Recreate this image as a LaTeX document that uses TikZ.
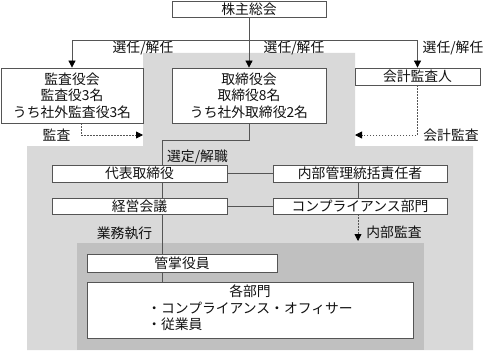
\documentclass[tikz,border=0pt]{standalone}
\usepackage{fontspec}
\setmainfont{Noto Sans CJK JP}
\usepackage{xcolor}
\usetikzlibrary{positioning,calc,arrows.meta,backgrounds}
\definecolor{GInk}{HTML}{111111}
\definecolor{GLine}{HTML}{555555}
\definecolor{GShade}{HTML}{D9D9D9}
\definecolor{GShadeDeep}{HTML}{C0C0C0}

\begin{document}
\begin{tikzpicture}[x=1pt, y=-1pt,
  every node/.style={align=center, text=GInk, font=\fontsize{13.8}{16.5}\selectfont, inner sep=0pt},
  orgbox/.style={draw=GLine, fill=white, line width=0.8pt},
  link/.style={draw=GLine, line width=0.8pt},
  elect/.style={link, -{Triangle[length=7pt, width=7pt, color=black]}},
  audit/.style={draw=GLine, line width=0.8pt, dash pattern=on 1.5pt off 1.5pt, -{Triangle[length=7pt, width=7pt, color=black]}}]
  \useasboundingbox (0,0) rectangle (486,350);
  \fill[GShade] (143,53) -- (355,53) -- (355,146) -- (473,146) -- (473,350) -- (27,350) -- (27,146) -- (143,146) -- cycle;
  \fill[GShadeDeep] (77,243) rectangle (424,350);

  \node[orgbox, minimum width=154pt, minimum height=16pt] (agm)     at (249,9)     {株主総会};
  \node[orgbox, minimum width=142pt, minimum height=55pt] (kansa)   at (72,95.5)   {監査役会\\監査役3名\\うち社外監査役3名};
  \node[orgbox, minimum width=154pt, minimum height=55pt] (board)   at (249,95.5)  {取締役会\\取締役8名\\うち社外取締役2名};
  \node[orgbox, minimum width=125pt, minimum height=17pt] (auditor) at (417.5,76.5) {会計監査人};

  \node[orgbox, minimum width=175pt, minimum height=17pt] (rep)     at (139.5,173.5) {代表取締役};
  \node[orgbox, minimum width=174pt, minimum height=17pt] (ctrl)    at (360,173.5)   {内部管理統括責任者};
  \node[orgbox, minimum width=175pt, minimum height=16pt] (mgmt)    at (139.5,206)   {経営会議};
  \node[orgbox, minimum width=174pt, minimum height=16pt] (comp)    at (360,206)     {コンプライアンス部門};

  \node[orgbox, minimum width=190pt, minimum height=18pt] (officer) at (182,263)   {管掌役員};
  \node[orgbox, minimum width=326pt, minimum height=56pt] (depts)   at (250,310)
    {\begin{tabular}{@{}l@{}}\multicolumn{1}{@{}c@{}}{各部門}\\・コンプライアンス・オフィサー\\・従業員\end{tabular}};

  \node (electL) at (143,48)   {選任/解任};
  \node (electM) at (294,48)   {選任/解任};
  \node (electR) at (453,48)   {選任/解任};
  \node (auditL) at (56.5,135) {監査};
  \node (auditR) at (451,135)  {会計監査};
  \node (appoint) at (197.5,157) {選定/解職};
  \node (inner)  at (394,232)  {内部監査};
  \node (exec)   at (124.5,233) {業務執行};

  \coordinate (fork)  at (249,40);
  \coordinate (bend)  at (249,140);
  \coordinate (spine) at (162,0);
  \coordinate (tapL)  at (81,0);
  \coordinate (tapR)  at (358,0);
  \coordinate (edgeL) at (143,135);
  \coordinate (edgeR) at (355,135);
  \coordinate (innerEnd) at (358,241);

  \draw[link]  (agm.south) -- (fork);
  \draw[elect] (fork) -| (kansa.north);
  \draw[elect] (fork) -- (board.north);
  \draw[elect] (fork) -| (auditor.north);
  \draw[audit] (kansa.south -| tapL) |- (edgeL);
  \draw[audit] (auditor.south) |- (edgeR);

  \draw[link] (board.south) -- (bend) -| (rep.north -| spine);
  \draw[link] (rep.east) -- (ctrl.west);
  \draw[link] (mgmt.east) -- (comp.west);
  \draw[link] (rep.south -| spine) -- (mgmt.north -| spine);
  \draw[link] (ctrl.south -| tapR) -- (comp.north -| tapR);
  \draw[audit] (comp.south -| tapR) -- (innerEnd);
  \draw[link] (mgmt.south -| spine) -- (officer.north -| spine);
  \draw[link] (officer.south -| spine) -- (depts.north -| spine);
\end{tikzpicture}
\end{document}
